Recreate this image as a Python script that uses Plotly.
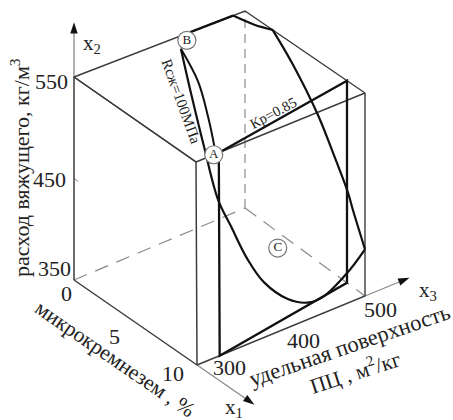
import numpy as np
import plotly.graph_objects as go

# --- data in chart units (x1 %, x3 m2/kg, x2 kg/m3) ---
X1_TICKS = [0, 5, 10]
X2_TICKS = [350, 450, 550]
X3_TICKS = [300, 400, 500]

SECTION_X1 = [10, 8.5, 8.5, 10]
SECTION_X3 = [327, 500, 500, 327]
SECTION_X2 = [550, 550, 350, 350]

LEFT_X1 = [0, 0.5, 1.5, 3, 4.5, 6, 7.2, 8.2, 8.8, 9.1, 9.6, 10]
LEFT_X3 = [425, 430, 431, 426, 420, 418, 420, 434, 449, 463, 484.5, 500]
LEFT_X2 = [537, 494, 449, 411, 399, 380, 367, 354, 350.5, 354, 374.5, 396]

RIGHT_X1 = [0, 0.5, 1, 1.3]
RIGHT_X3 = [425, 438, 443, 446]
RIGHT_X2 = [537, 504, 470, 442]

TOP_X1 = [0, 0]
TOP_X3 = [436, 486]
TOP_X2 = [550, 550]

TOPCURVE_X1 = [0, 1.35, 2.3]
TOPCURVE_X3 = [486, 492, 500]
TOPCURVE_X2 = [550, 550, 550]

FACE_X1 = [2.3, 4, 6.08, 7.33, 8.58, 9, 10]
FACE_X3 = [500] * 7
FACE_X2 = [550, 529, 496, 469, 440, 426, 396]

POINT_NAMES = ["A", "B", "C"]
POINT_X1 = [10, 0, 5.2]
POINT_X3 = [321, 432, 465]
POINT_X2 = [550, 543, 368]

# --- cube corners on the page (the drawing's oblique, slightly perspective view) ---
PX = {(0, 0, 0): (74, 280), (0, 0, 1): (74, 77), (0, 1, 0): (245, 208), (0, 1, 1): (245, 11),
      (1, 0, 0): (197, 365), (1, 0, 1): (196, 162), (1, 1, 0): (365, 296), (1, 1, 1): (365, 93)}


def project(x1, x3, x2):
    a = (np.asarray(x1, float) - 0) / 10
    b = (np.asarray(x3, float) - 300) / 200
    c = (np.asarray(x2, float) - 350) / 200
    xs, ys = 0, 0
    for (i, j, k), (px, py) in PX.items():
        w = (a if i else 1 - a) * (b if j else 1 - b) * (c if k else 1 - c)
        xs = xs + w * px
        ys = ys + w * py
    return xs, ys


fig = go.Figure()


def line(x1, x3, x2, color="#444444", width=1.4, dash=None, shape="linear"):
    xs, ys = project(x1, x3, x2)
    fig.add_trace(go.Scatter(x=np.atleast_1d(xs), y=np.atleast_1d(ys), mode="lines", hoverinfo="skip",
                             line=dict(color=color, width=width, dash=dash, shape=shape, smoothing=1.0)))


GRAY = "#8a8a8a"
line([0, 0], [500, 500], [350, 550], GRAY, 1.2, "9px,6px")
line([0, 0], [300, 500], [350, 350], GRAY, 1.2, "14px,9px")
line([0, 10], [500, 500], [350, 350], GRAY, 1.2, "14px,9px")
line([0, 0], [300, 300], [550, 595], GRAY, 1.3)
line([10, 10], [500, 545], [350, 350], GRAY, 1.3)
line([10, 14], [300, 300], [350, 350], GRAY, 1.3)
line([0, 0.35], [300, 300], [450, 450], GRAY, 1.0)
line([0, 0, 10, 10, 0], [300, 300, 300, 300, 300], [350, 550, 550, 350, 350], "#3c3c3c", 1.5)
line([10, 10, 10], [300, 500, 500], [350, 350, 550], "#3c3c3c", 1.4)
line([10, 10, 0, 0, 10], [300, 500, 500, 300, 300], [550, 550, 550, 550, 550], "#3c3c3c", 1.4)
line(SECTION_X1 + SECTION_X1[:1], SECTION_X3 + SECTION_X3[:1], SECTION_X2 + SECTION_X2[:1], "#111111", 2.3)
line(LEFT_X1, LEFT_X3, LEFT_X2, "#111111", 2.2, shape="spline")
line(RIGHT_X1, RIGHT_X3, RIGHT_X2, "#111111", 2.0, shape="spline")
line(TOP_X1, TOP_X3, TOP_X2, "#111111", 2.2)
line(TOPCURVE_X1, TOPCURVE_X3, TOPCURVE_X2, "#111111", 2.2, shape="spline")
line(FACE_X1, FACE_X3, FACE_X2, "#111111", 2.2, shape="spline")

hx, hy = project([0, 10, 14.67], [300, 553, 300], [604, 350, 350])
fig.add_trace(go.Scatter(x=hx, y=hy, mode="markers", hoverinfo="skip",
                         marker=dict(symbol="arrow", size=12, color="#111111", angle=[0, 68, 125.5],
                                     line=dict(width=0))))

px_, py_ = project(POINT_X1, POINT_X3, POINT_X2)
fig.add_trace(go.Scatter(x=px_, y=py_, mode="markers+text", text=POINT_NAMES, textposition="middle center",
                         hoverinfo="skip", textfont=dict(family="Liberation Serif", size=13, color="#222222"),
                         marker=dict(size=18, color="white", line=dict(color="#777777", width=1.2))))


def label(x, y, text, size=22, angle=0):
    fig.add_annotation(x=x, y=y, text=text, showarrow=False, textangle=angle, xanchor="center", yanchor="middle",
                       font=dict(family="Liberation Serif", size=size, color="#222222"))


for v, (dx, dy) in zip(X2_TICKS, [(-20, -12), (-25, 1), (-23, 4)]):
    x, y = project(0, 300, v)
    label(float(x) + dx, float(y) + dy, str(v))
for v, (dx, dy) in zip(X1_TICKS, [(-8, 13), (-21, 14), (-24, 8)]):
    x, y = project(v, 300, 350)
    label(float(x) + dx, float(y) + dy, str(v))
for v, (dx, dy) in zip(X3_TICKS, [(32, 2), (22, 10), (15, 13)]):
    x, y = project(10, v, 350)
    label(float(x) + dx, float(y) + dy, str(v))

label(92, 44, "x<sub>2</sub>", 21)
label(428, 291, "x<sub>3</sub>", 21)
label(234, 408, "x<sub>1</sub>", 21)
label(20, 168, "расход вяжущего, кг/м<sup>3</sup>", 22, -90)
label(115, 359, "микрокремнезем , %", 21.5, 34.5)
label(349, 345, "удельная поверхность", 22.5, -19)
label(355, 371, "ПЦ , м<sup>2</sup>/кг", 21.5, -18)
label(273, 113, "Кр=0.85", 14.5, -28)
label(181, 101, "Rсж=100МПа", 15, 70)

fig.update_layout(width=453, height=420, margin=dict(l=0, r=0, t=0, b=0), showlegend=False,
                  paper_bgcolor="white", plot_bgcolor="white",
                  xaxis=dict(range=[0, 453], visible=False, fixedrange=True),
                  yaxis=dict(range=[420, 0], visible=False, fixedrange=True))
fig.write_html("out.html", config={"displayModeBar": False},
               post_script="document.body.style.margin='0';document.documentElement.style.overflow='hidden';")
